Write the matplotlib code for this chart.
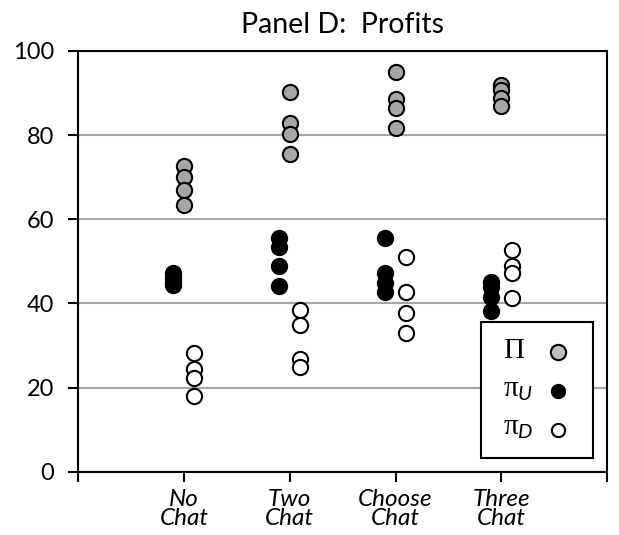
import matplotlib.pyplot as plt
from matplotlib.patches import Rectangle

plt.rcParams['font.family'] = ['Lato', 'DejaVu Sans']
plt.rcParams['mathtext.fontset'] = 'custom'
plt.rcParams['mathtext.rm'] = 'Liberation Serif'
plt.rcParams['mathtext.it'] = 'Lato:italic'

# categories
treatments = ['No\nChat', 'Two\nChat', 'Choose\nChat', 'Three\nChat']

# total profits (Pi)
pi_total = [
    [72.7, 70.1, 67.0, 63.5],
    [90.3, 82.8, 80.2, 75.6],
    [94.9, 88.5, 86.4, 81.6],
    [91.9, 90.7, 88.8, 86.9],
]
# upstream profits (pi_U)
pi_up = [
    [47.2, 46.0, 45.0, 44.5],
    [55.5, 53.5, 49.0, 44.2],
    [55.5, 47.2, 44.8, 42.8],
    [45.2, 44.0, 41.6, 38.2],
]
# downstream profits (pi_D)
pi_down = [
    [28.2, 24.4, 22.4, 18.1],
    [38.5, 34.9, 26.8, 24.9],
    [51.1, 42.8, 37.8, 33.1],
    [52.7, 48.8, 47.2, 41.4],
]

fig = plt.figure(figsize=(6.19, 5.35), dpi=100)
ax = fig.add_axes([0.126, 0.118, 0.855, 0.787])

ms = 120
lw = 1.5
for i in range(len(treatments)):
    x = i + 1
    ax.scatter([x] * len(pi_total[i]), pi_total[i], s=ms, c='#a6a6a6',
               edgecolors='black', linewidths=lw, zorder=3)
    ax.scatter([x - 0.1] * len(pi_up[i]), pi_up[i], s=ms, c='black',
               edgecolors='black', linewidths=lw, zorder=3)
    ax.scatter([x + 0.1] * len(pi_down[i]), pi_down[i], s=ms, c='white',
               edgecolors='black', linewidths=lw, zorder=3)

ax.set_xlim(0, 5)
ax.set_ylim(0, 100)
ax.set_xticks([0, 1, 2, 3, 4, 5])
ax.set_xticklabels([''] + treatments + [''], style='italic', fontsize=17.5,
                   linespacing=0.93)
ax.set_yticks([0, 20, 40, 60, 80, 100])
ax.tick_params(axis='y', labelsize=17, length=7, width=1.5, pad=10)
ax.tick_params(axis='x', length=7, width=1.5, pad=5)
for sp in ax.spines.values():
    sp.set_linewidth(1.5)

ax.yaxis.grid(True, color='#a6a6a6', linewidth=1.5)
ax.set_axisbelow(True)

ax.set_title('Panel D:  Profits', fontsize=20.5, pad=13)

# legend box drawn by hand (labels left aligned, markers on the right)
ax.add_patch(Rectangle((0.762, 0.033), 0.2115, 0.323, transform=ax.transAxes,
                       facecolor='white', edgecolor='black', linewidth=1.5,
                       zorder=5))
leg_labels = [r'$\mathrm{\Pi}$', r'$\mathrm{\pi}_U$', r'$\mathrm{\pi}_D$']
leg_faces = ['#bfbfbf', 'black', 'white']
leg_sizes = [11, 9.5, 9.5]
leg_text_y = [0.271, 0.178, 0.088]
leg_mark_y = [0.285, 0.191, 0.100]
for lab, fc, sz, ty, my in zip(leg_labels, leg_faces, leg_sizes, leg_text_y, leg_mark_y):
    ax.text(0.803, ty, lab, transform=ax.transAxes, fontsize=21,
            va='baseline', ha='left', zorder=6)
    ax.plot([0.907], [my], transform=ax.transAxes, ls='none', marker='o',
            markersize=sz, markerfacecolor=fc, markeredgecolor='black',
            markeredgewidth=lw, zorder=6, clip_on=False)

fig.savefig('out.png', dpi=100)
